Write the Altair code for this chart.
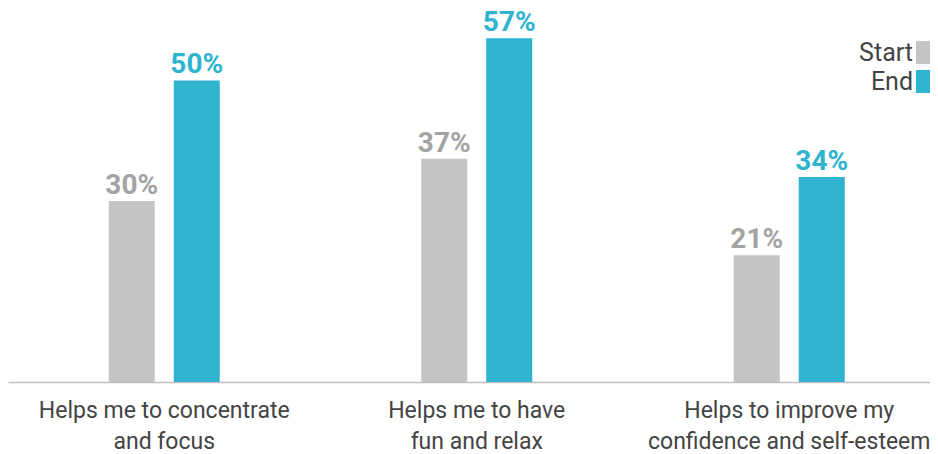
import altair as alt
import pandas as pd

categories = ["Helps me to concentrate|and focus",
              "Helps me to have|fun and relax",
              "Helps to improve my|confidence and self-esteem"]
series = ["Start", "End"]
start_values = [30, 37, 21]
end_values = [50, 57, 34]

rows = []
for c, s, e in zip(categories, start_values, end_values):
    rows.append({"category": c, "series": "Start", "value": s, "label": f"{s}%"})
    rows.append({"category": c, "series": "End", "value": e, "label": f"{e}%"})
df = pd.DataFrame(rows)

FONT = "Roboto"
x = alt.X("category:N", sort=None, title=None,
          scale=alt.Scale(paddingInner=0, paddingOuter=0, range=[0, 937.5]),
          axis=alt.Axis(labelAngle=0, ticks=False, domainColor="#bfbfbf", domainWidth=1.5,
                        labelFontSize=23, labelColor="#444444", labelFont=FONT,
                        labelPadding=17, labelLineHeight=31, labelLimit=0,
                        labelOverlap=False,
                        labelExpr="split(datum.label, '|')"))
xo = alt.XOffset("series:N", sort=series,
                 scale=alt.Scale(range=[100.75, 211.75], paddingInner=0.2923, paddingOuter=0))
y = alt.Y("value:Q", title=None, scale=alt.Scale(domain=[0, 62]), axis=None)

bars = alt.Chart(df).mark_bar().encode(
    x=x, xOffset=xo, y=y,
    color=alt.Color("series:N", sort=series,
                    scale=alt.Scale(domain=series, range=["#c4c4c4", "#2eb4cf"]),
                    legend=alt.Legend(title=None, orient="none", legendX=903, legendY=32,
                                      symbolType="M-0.66,-1H0.66V1H-0.66Z",
                                      symbolSize=529, symbolStrokeWidth=0,
                                      labelAlign="right", labelOffset={"expr": "-23"},
                                      labelFontSize=25, labelColor="#444444", labelFont=FONT,
                                      rowPadding=3, padding=0)),
)

texts = alt.Chart(df).mark_text(baseline="alphabetic", dy=-7, fontSize=28,
                                fontWeight="bold", font=FONT).encode(
    x=x, xOffset=xo, y=y, text="label:N",
    color=alt.condition(alt.datum.series == "Start", alt.value("#a3a3a3"), alt.value("#2eb4cf")),
)

chart = alt.layer(bars, texts).properties(
    width=922, height=374,
    padding={"left": 0, "top": 0, "right": 0, "bottom": 80},
    autosize=alt.AutoSizeParams(type="none"),
).configure_view(stroke=None)
chart.save("out.html", embed_options={"renderer": "svg", "actions": False})
